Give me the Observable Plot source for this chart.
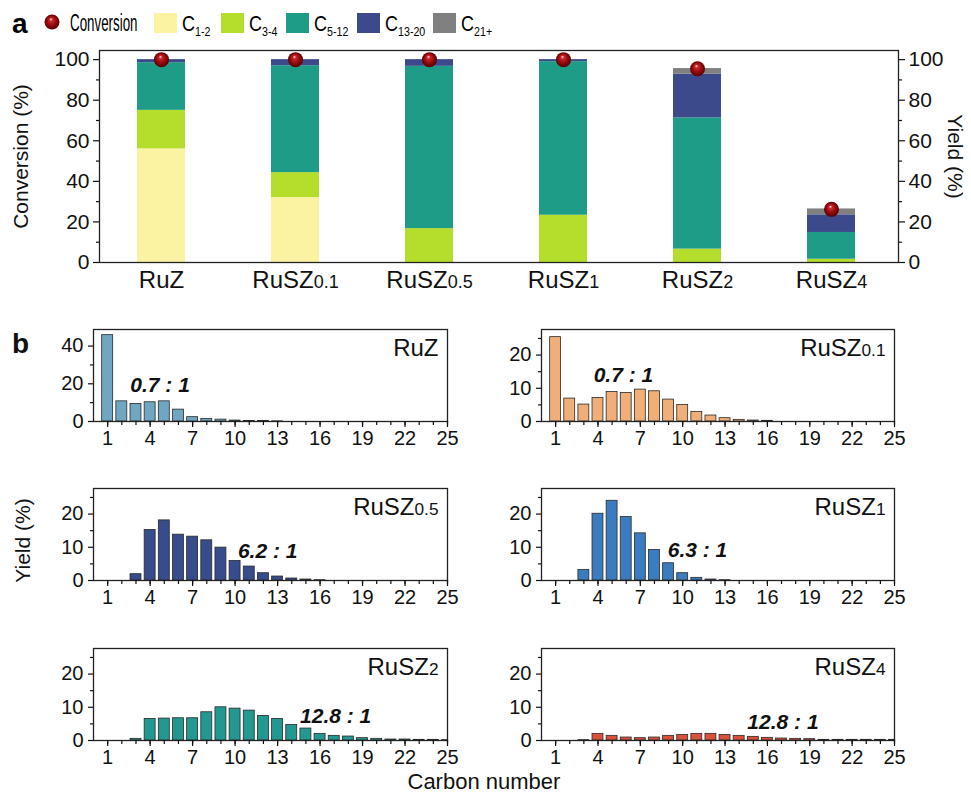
<!DOCTYPE html>
<html><head><meta charset="utf-8">
<script src="https://cdn.jsdelivr.net/npm/d3@7"></script>
<script src="https://cdn.jsdelivr.net/npm/@observablehq/plot@0.6"></script>
<style>
body{margin:0;background:#fff;font-family:"Liberation Sans",Arial,sans-serif;color:#111;}
#root{position:relative;width:971px;height:796px;overflow:hidden;background:#fff;}
</style></head><body><div id="root"></div>
<script>
// ---------- DATA ----------
const catalysts = ["RuZ","RuSZ0.1","RuSZ0.5","RuSZ1","RuSZ2","RuSZ4"];
const fractions = ["C1-2","C3-4","C5-12","C13-20","C21+"];
const fractionColors = ["#fbf3a2","#b5dd2c","#1f9c88","#3c4a8c","#808080"];
const yieldC12   = [56, 32, 0, 0, 0, 0];
const yieldC34   = [19, 12.3, 16.7, 23.3, 6.6, 1.6];
const yieldC512  = [23.5, 52.7, 80, 75.7, 64.7, 13.2];
const yieldC1320 = [1.5, 3, 3.3, 1, 21.5, 8.7];
const yieldC21   = [0, 0, 0, 0, 2.8, 2.9];
const conversion = [100, 100, 100, 100, 95.5, 26.2];
const yTicksA = [0,20,40,60,80,100];
const yMinorA = [10,30,50,70,90];

const carbonNumbers = d3.range(1, 26);
const carbonTickLabels = [1,4,7,10,13,16,19,22,25];
const distRuZ    = [45.8,10.7,9.3,10.2,10.7,6.3,2.3,1.4,1.0,0.5,0.3,0.3,0.1,0,0,0,0,0,0,0,0,0,0,0,0];
const distRuSZ01 = [25.4,6.9,5.1,7.1,8.9,8.6,9.6,9.1,6.6,5.0,2.9,1.8,1.0,0.5,0.3,0.2,0,0,0,0,0,0,0,0,0];
const distRuSZ05 = [0,0,1.9,15.2,18.1,13.8,13.2,12.1,9.9,5.9,4.2,2.2,1.2,0.6,0.3,0.1,0,0,0,0,0,0,0,0,0];
const distRuSZ1  = [0,0,3.2,20.1,24.0,19.1,14.2,9.2,5.2,2.2,0.8,0.3,0.1,0,0,0,0,0,0,0,0,0,0,0,0];
const distRuSZ2  = [0,0,0.5,6.5,6.6,6.7,6.7,8.5,10.0,9.6,9.0,7.4,6.5,4.7,3.6,2.0,1.4,1.2,0.7,0.5,0.3,0.3,0.2,0.2,0.1];
const distRuSZ4  = [0,0,0.1,2.0,1.4,0.9,0.7,0.9,1.4,1.7,2.0,2.0,1.7,1.4,1.1,0.8,0.6,0.5,0.4,0.2,0.2,0.2,0.2,0.2,0.2];
const distributions = [distRuZ, distRuSZ01, distRuSZ05, distRuSZ1, distRuSZ2, distRuSZ4];
const distColors = ["#6fa7c2","#f0ae78","#374c8c","#3a7cbf","#229890","#d9503b"];
const ratioLabels = ["0.7 : 1","0.7 : 1","6.2 : 1","6.3 : 1","12.8 : 1","12.8 : 1"];
const ratioX = [4.7, 5.8, 12.3, 11.05, 17.1, 17.1];
const ratioY = [19, 13.9, 8.7, 9.2, 7.2, 5.5];

// ---------- helpers ----------
const root = document.getElementById("root");
const FONT = '"Liberation Sans", Arial, sans-serif';

root.insertAdjacentHTML("beforeend", `<svg width="0" height="0" style="position:absolute"><defs>
<radialGradient id="sphere" cx="50%" cy="50%" r="50%" fx="42%" fy="30%">
<stop offset="0" stop-color="#ffe4e4"/><stop offset="0.22" stop-color="#d0262a"/>
<stop offset="0.6" stop-color="#950b0e"/><stop offset="1" stop-color="#5a0000"/></radialGradient></defs></svg>`);

function place(el, left, top){ el.style.position="absolute"; el.style.left=left+"px"; el.style.top=top+"px"; root.appendChild(el); }
function subscriptify(nodes, ratio){
  nodes.forEach(node => {
    const t = node.textContent; const m = t.match(/^(RuS?Z)(.+)$/);
    if (!m) return;
    const el = d3.select(node); el.text(null);
    el.append("tspan").text(m[1]);
    el.append("tspan").attr("font-size", ratio + "em").text(m[2]);
  });
}
function addText(html, left, top, css){
  const d = document.createElement("div"); d.innerHTML = html; d.style.cssText = "position:absolute;white-space:nowrap;" + (css||"");
  d.style.left = left+"px"; d.style.top = top+"px"; root.appendChild(d); return d;
}
function addRotated(text, cx, cy, deg, size){
  const d = document.createElement("div"); d.textContent = text;
  d.style.cssText = `position:absolute;white-space:nowrap;font-size:${size}px;font-family:${FONT};line-height:1;`;
  root.appendChild(d);
  const w = d.offsetWidth, h = d.offsetHeight;
  d.style.left = (cx - w/2)+"px"; d.style.top = (cy - h/2)+"px"; d.style.transform = `rotate(${deg}deg)`;
}

// ---------- legend (panel a) ----------
const legendSwatchX = [154, 221, 286, 357, 433];
let lg = `<svg width="971" height="44" style="position:absolute;left:0;top:0" font-family='${FONT}'>`;
lg += `<text x="12" y="33" font-size="28" font-weight="bold">a</text>`;
lg += `<circle cx="52" cy="22" r="7.5" fill="url(#sphere)"/>`;
lg += `<text font-size="23" transform="translate(70,31) scale(0.58,1)">Conversion</text>`;
fractions.forEach((f,i) => {
  const x = legendSwatchX[i];
  lg += `<rect x="${x}" y="13" width="23" height="20" fill="${fractionColors[i]}"/>`;
  lg += `<text font-size="22" transform="translate(${x+28},31) scale(0.82,1)">C<tspan font-size="13" dy="5">${f.slice(1)}</tspan></text>`;
});
lg += `</svg>`;
root.insertAdjacentHTML("beforeend", lg);

// ---------- panel a ----------
const stackData = [];
const segVals = [yieldC12, yieldC34, yieldC512, yieldC1320, yieldC21];
catalysts.forEach((c,i) => fractions.forEach((f,j) => stackData.push({cat:c, frac:f, val:segVals[j][i]})));
const convData = catalysts.map((c,i) => ({cat:c, conv:conversion[i]}));

const chartA = Plot.plot({
  width: 971, height: 257, marginTop: 10, marginBottom: 35, marginLeft: 99, marginRight: 73,
  style: {fontFamily: FONT, fontSize: "21px", color: "#111", background: "transparent"},
  x: {domain: catalysts, paddingInner: 0.64, paddingOuter: 0.3, align: 0.47, label: null},
  y: {domain: [0, 104.5], label: null},
  color: {domain: fractions, range: fractionColors},
  marks: [
    Plot.barY(stackData, {x: "cat", y: "val", fill: "frac"}),
    Plot.dot(convData, {x: "cat", y: "conv", r: 7.5, fill: "url(#sphere)"}),
    Plot.frame({stroke: "#222", strokeWidth: 1.3}),
    Plot.axisX({tickSize: 0, tickPadding: 8, fontSize: 24, label: null}),
    Plot.axisY({anchor: "left", ticks: yTicksA, tickSize: 6, tickPadding: 4, label: null, strokeWidth: 1.2}),
    Plot.axisY({anchor: "left", ticks: yMinorA, tickSize: 3, tickFormat: () => "", label: null, strokeWidth: 1.2}),
    Plot.axisY({anchor: "right", ticks: yTicksA, tickSize: 6, tickPadding: 4, label: null, strokeWidth: 1.2}),
    Plot.axisY({anchor: "right", ticks: yMinorA, tickSize: 3, tickFormat: () => "", label: null, strokeWidth: 1.2})
  ]
});
place(chartA, 0, 40);
subscriptify(chartA.querySelectorAll('[aria-label="x-axis tick label"] text'), 0.75);
addRotated("Conversion (%)", 20, 156, -90, 21);
addRotated("Yield (%)", 955, 156, 90, 21);

// ---------- panel b ----------
addText("b", 12, 330, `font-size:28px;font-weight:bold;font-family:${FONT};line-height:1;`);
const colLeft = [0, 480];
const colMarginLeft = [93, 61];
const colMarginRight = [33, 66];
const rowTop = [320, 479, 639];

distributions.forEach((vals, i) => {
  const col = i % 2, row = Math.floor(i / 2);
  const data = carbonNumbers.map((c, j) => ({c, v: vals[j]})).filter(d => d.v > 0);
  const ymax = i === 0 ? 48.8 : 27.7;
  const major = i === 0 ? [0, 20, 40] : [0, 10, 20];
  const minor = i === 0 ? [10, 30] : [5, 15, 25];
  const chart = Plot.plot({
    width: 480, height: 131, marginTop: 9, marginBottom: 30,
    marginLeft: colMarginLeft[col], marginRight: colMarginRight[col],
    style: {fontFamily: FONT, fontSize: "20px", color: "#111", background: "transparent", overflow: "visible"},
    x: {domain: [0, 25], label: null},
    y: {domain: [0, ymax], label: null},
    marks: [
      Plot.rectY(data, {x1: d => d.c - 0.5, x2: d => d.c + 0.5, y: "v", fill: distColors[i],
        stroke: "#2a2a2a", strokeWidth: 0.8, insetLeft: 1.6, insetRight: 1.6, clip: true}),
      Plot.frame({stroke: "#222", strokeWidth: 1.3}),
      Plot.axisX({ticks: carbonTickLabels, tickSize: 6, tickPadding: 3, label: null, strokeWidth: 1.2}),
      Plot.axisX({ticks: carbonNumbers, tickSize: 4, tickFormat: () => "", label: null, strokeWidth: 1.2}),
      Plot.axisY({ticks: major, tickSize: 5, tickPadding: 5, label: null, strokeWidth: 1.2}),
      Plot.axisY({ticks: minor, tickSize: 3, tickFormat: () => "", label: null, strokeWidth: 1.2}),
      Plot.text([catalysts[i]], {frameAnchor: "top-right", dx: -9, dy: 19, lineAnchor: "middle", textAnchor: "end",
        fontSize: 24, fill: "#111", className: "panel-name"}),
      Plot.text([ratioLabels[i]], {x: () => ratioX[i], y: () => ratioY[i], textAnchor: "middle", lineAnchor: "middle",
        fontSize: 21, fontWeight: "bold", fontStyle: "italic", fill: "#111"})
    ]
  });
  place(chart, colLeft[col], rowTop[row]);
  subscriptify(chart.querySelectorAll('.panel-name text'), 0.72);
});
addRotated("Yield (%)", 22, 540, -90, 21);
const cn = addText("Carbon number", 0, 0, `font-size:22px;font-family:${FONT};line-height:1;`);
cn.style.left = (484 - cn.offsetWidth/2) + "px"; cn.style.top = "771px";
</script></body></html>
